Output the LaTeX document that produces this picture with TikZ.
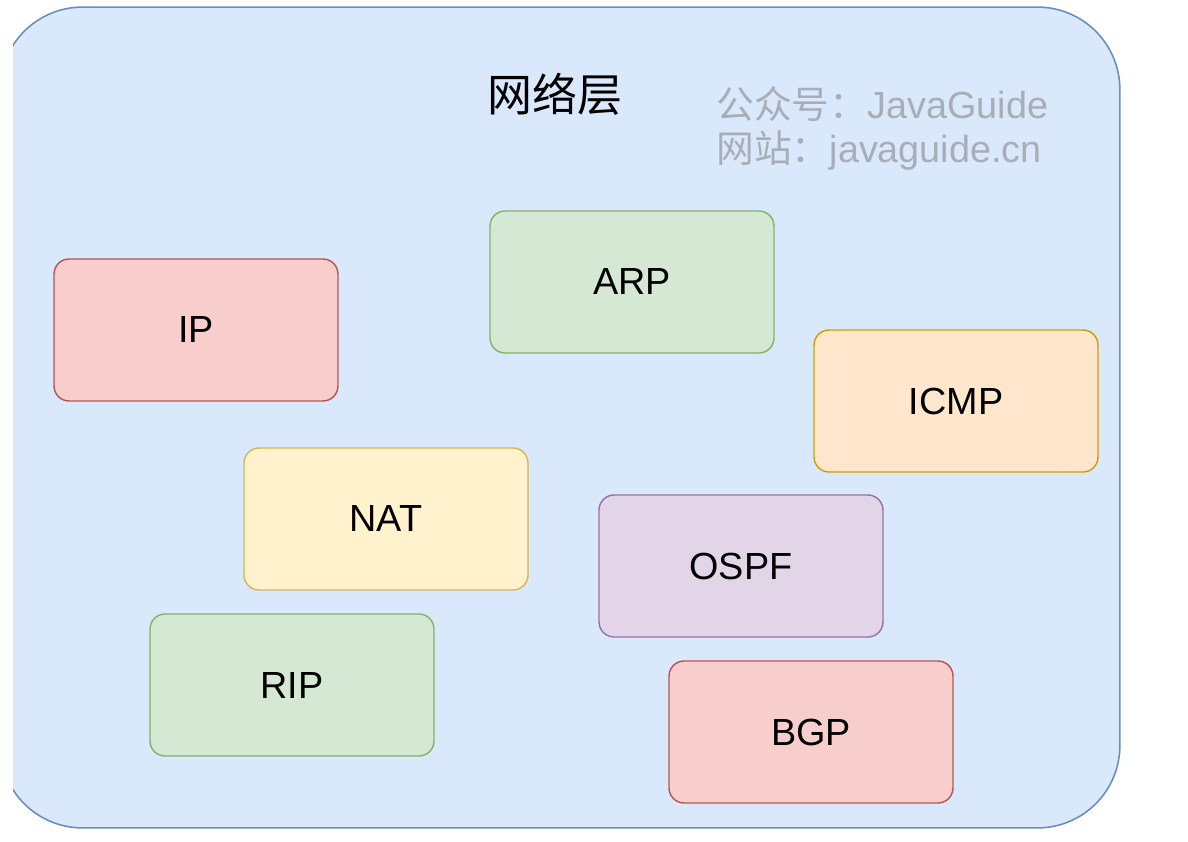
\documentclass[tikz,border=0pt]{standalone}
\usepackage{fontspec}
\setmainfont{Liberation Sans}
\newfontfamily\cjk{Noto Sans CJK SC}
\usepackage{tikz}
\usepackage{xcolor}
\definecolor{cLayerFill}{HTML}{DAE8FC}
\definecolor{cLayerLine}{HTML}{6C8EBF}
\definecolor{cRedFill}{HTML}{F8CECC}
\definecolor{cRedLine}{HTML}{B85450}
\definecolor{cGreenFill}{HTML}{D5E8D4}
\definecolor{cGreenLine}{HTML}{82B366}
\definecolor{cOrangeFill}{HTML}{FFE6CC}
\definecolor{cOrangeLine}{HTML}{D79B00}
\definecolor{cYellowFill}{HTML}{FFF2CC}
\definecolor{cYellowLine}{HTML}{D6B656}
\definecolor{cPurpleFill}{HTML}{E1D5E7}
\definecolor{cPurpleLine}{HTML}{9673A6}
\definecolor{cMark}{RGB}{168,174,184}
\tikzset{
	layerbox/.style ={rectangle, rounded corners=1.65cm, minimum width=22.4cm, minimum height=16.42cm, draw=cLayerLine, fill=cLayerFill, line width=0.9pt},
	proto/.style    ={rectangle, rounded corners=0.3cm, minimum width=5.68cm, minimum height=2.84cm, text centered, line width=0.8pt, font=\fontsize{21.5}{24}\selectfont},
	watermark/.style={text=cMark, font=\fontsize{21.5}{26}\selectfont, anchor=west, inner sep=0pt},
}

\begin{document}
\begin{tikzpicture}[x=0.02cm, y=-0.02cm]
	\useasboundingbox (0,0) rectangle (1188,842);
	\begin{scope}
		\clip (13,0) rectangle (1188,842);
		\node[layerbox] (layer) at (560,417.5) {};
	\end{scope}
	\node[font=\fontsize{25.6}{28}\selectfont\cjk] (title) at (555,94) {网络层};
	\node[watermark] (wm1) at (716,104) {{\cjk 公众号：}JavaGuide};
	\node[watermark] (wm2) at (716,151) {{\cjk 网站：}javaguide.cn};
	% protocols of the network layer
	\node[proto, draw=cRedLine, fill=cRedFill] (ip) at (196,330) {IP};
	\node[proto, draw=cGreenLine, fill=cGreenFill] (arp) at (632,282) {ARP};
	\node[proto, draw=cOrangeLine, fill=cOrangeFill] (icmp) at (956,401) {ICMP};
	\node[proto, draw=cYellowLine, fill=cYellowFill] (nat) at (386,519) {NAT};
	\node[proto, draw=cPurpleLine, fill=cPurpleFill] (ospf) at (741,566) {OSPF};
	\node[proto, draw=cGreenLine, fill=cGreenFill] (rip) at (292,685) {RIP};
	\node[proto, draw=cRedLine, fill=cRedFill] (bgp) at (811,732) {BGP};
\end{tikzpicture}
\end{document}
